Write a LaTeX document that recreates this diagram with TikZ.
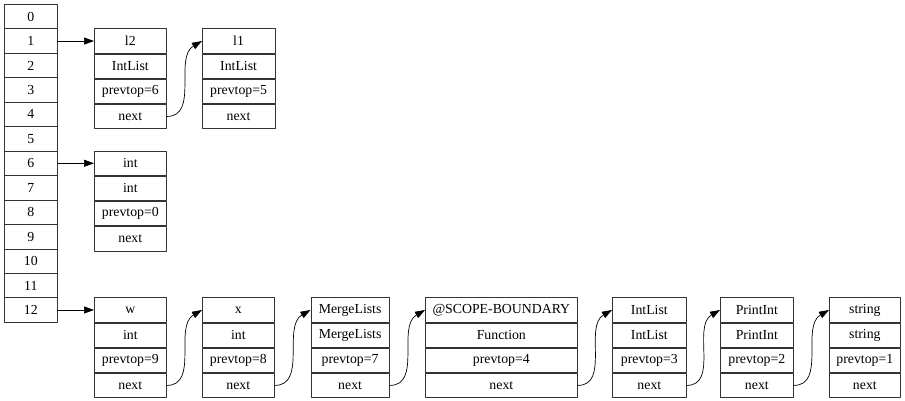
\documentclass[tikz,border=0pt]{standalone}
\usepackage{fontspec}
\setmainfont{Liberation Serif}
\usetikzlibrary{arrows.meta}
\begin{document}
\begin{tikzpicture}[x=1pt, y=1pt, line join=round, line cap=round,
		>={Triangle[length=10pt,width=7pt]},
		cell/.style={draw=black!80, line width=0.7pt, rectangle, inner sep=0pt,
			minimum height=24.45pt, anchor=north west,
			font=\fontsize{13.8}{16}\selectfont},
		link/.style={->, line width=0.7pt}]
		\def\rh{24.45} \def\top{-4}
		\useasboundingbox (0,0) rectangle (905,-400);
		% stack of frames 0..12
		\foreach \i in {0,...,12}
		\node[cell, minimum width=53pt] (t\i) at (4,{\top-\i*\rh}) {\i};
		% records: name/left/row/width/texts
		\foreach \n/\x/\r/\w/\a/\b/\c in {
			l2/94/1/72/l2/IntList/prevtop=6,
			l1/202/1/72.5/l1/IntList/prevtop=5,
			int/94/6/72/int/int/prevtop=0,
			w/94/12/72/w/int/prevtop=9,
			x/202/12/72/x/int/prevtop=8,
			ml/310.5/12/78.5/MergeLists/MergeLists/prevtop=7,
			scope/425/12/152/@SCOPE-BOUNDARY/Function/prevtop=4,
			il/612/12/74/IntList/IntList/prevtop=3,
			pi/720/12/73/PrintInt/PrintInt/prevtop=2,
			str/829/12/71/string/string/prevtop=1}{
			\node[cell, minimum width=\w pt] (\n-0) at (\x,{\top-\r*\rh}) {\a};
			\node[cell, minimum width=\w pt] (\n-1) at (\n-0.south west) {\b};
			\node[cell, minimum width=\w pt] (\n-2) at (\n-1.south west) {\c};
			\node[cell, minimum width=\w pt] (\n-3) at (\n-2.south west) {next};
		}
		\draw[link] (t1.east) -- (l2-0.west);
		\draw[link] (t6.east) -- (int-0.west);
		\draw[link] (t12.east) -- (w-0.west);
		\draw[link] (l2-3.east) to[out=0, in=210] (l1-0.west);
		\draw[link] (w-3.east) to[out=0, in=210] (x-0.west);
		\draw[link] (x-3.east) to[out=0, in=210] (ml-0.west);
		\draw[link] (ml-3.east) to[out=0, in=210] (scope-0.west);
		\draw[link] (scope-3.east) to[out=0, in=210] (il-0.west);
		\draw[link] (il-3.east) to[out=0, in=210] (pi-0.west);
		\draw[link] (pi-3.east) to[out=0, in=210] (str-0.west);
	\end{tikzpicture}
\end{document}
